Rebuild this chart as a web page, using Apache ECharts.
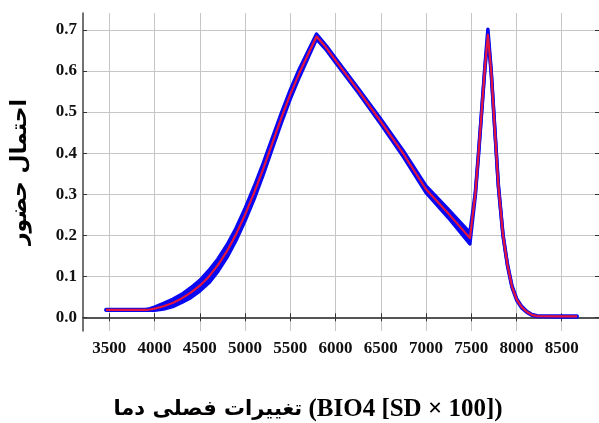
<!DOCTYPE html>
<html>
<head>
<meta charset="utf-8">
<script src="https://cdn.jsdelivr.net/npm/echarts@6/dist/echarts.min.js"></script>
<style>
html,body{margin:0;padding:0;background:#fff;}
#c{width:599px;height:423px;}
</style>
</head>
<body>
<div id="c"></div>
<script>
// ---- data ----
const xs    = [3463, 3600, 3750, 3900, 3950, 4000, 4100, 4200, 4300, 4400, 4500, 4600, 4700, 4800, 4900, 5000, 5100, 5200, 5300, 5400, 5500, 5600, 5700, 5790, 5900, 6000, 6250, 6500, 6750, 7000, 7250, 7485, 7545, 7581, 7648, 7684, 7720, 7760, 7800, 7851, 7900, 7950, 8005, 8060, 8116, 8170, 8227, 8450, 8670];
const mean  = [0.018, 0.018, 0.018, 0.018, 0.019, 0.021, 0.027, 0.035, 0.046, 0.060, 0.077, 0.099, 0.127, 0.161, 0.202, 0.250, 0.303, 0.361, 0.423, 0.485, 0.543, 0.595, 0.642, 0.684, 0.656, 0.626, 0.553, 0.477, 0.398, 0.312, 0.252, 0.193, 0.300, 0.400, 0.600, 0.688, 0.600, 0.460, 0.320, 0.200, 0.128, 0.075, 0.042, 0.024, 0.013, 0.006, 0.003, 0.002, 0.002];
const upper = [0.019, 0.019, 0.019, 0.019, 0.021, 0.025, 0.034, 0.044, 0.056, 0.072, 0.090, 0.114, 0.142, 0.176, 0.217, 0.265, 0.318, 0.375, 0.436, 0.497, 0.554, 0.605, 0.650, 0.690, 0.661, 0.631, 0.558, 0.483, 0.405, 0.320, 0.262, 0.206, 0.304, 0.403, 0.603, 0.702, 0.603, 0.462, 0.322, 0.202, 0.130, 0.077, 0.044, 0.026, 0.014, 0.007, 0.004, 0.003, 0.003];
const lower = [0.017, 0.017, 0.017, 0.017, 0.017, 0.017, 0.020, 0.026, 0.036, 0.048, 0.064, 0.084, 0.112, 0.146, 0.187, 0.235, 0.288, 0.347, 0.410, 0.473, 0.532, 0.585, 0.634, 0.678, 0.651, 0.621, 0.548, 0.471, 0.391, 0.304, 0.242, 0.179, 0.296, 0.397, 0.597, 0.686, 0.597, 0.458, 0.318, 0.198, 0.126, 0.073, 0.040, 0.022, 0.012, 0.005, 0.002, 0.001, 0.001];
const xTicks = [3500, 4000, 4500, 5000, 5500, 6000, 6500, 7000, 7500, 8000, 8500];
const yTicks = [0, 0.1, 0.2, 0.3, 0.4, 0.5, 0.6, 0.7];
const xNameFa = 'تغییرات فصلی دما';
const xNameEn = '(BIO4 [SD × 100])';
const yName = 'احتمال حضور';

const pairs = arr => xs.map((x, i) => [x, arr[i]]);
// one band segment per pair of neighbouring samples
const bandSegs = xs.slice(0, -1).map((x, i) => [x, lower[i], upper[i], xs[i + 1], lower[i + 1], upper[i + 1]]);

const BLUE = '#0808f2';
const RED = '#e3153e';
const lblFont = {fontFamily: "'Liberation Serif', serif", fontWeight: 'bold', fontSize: 17, color: '#111'};
const axLine = {show: true, lineStyle: {color: '#444', width: 1.5}};
const tick = vals => ({show: true, inside: true, length: 4, customValues: vals, lineStyle: {color: '#333', width: 1}});
const split = {show: true, lineStyle: {color: '#c6c6c6', width: 1}};

const chart = echarts.init(document.getElementById('c'), null, {renderer: 'canvas'});
chart.setOption({
  animation: false,
  backgroundColor: '#fff',
  grid: {left: 83, top: 13, right: 0, bottom: 92, containLabel: false, outerBoundsMode: 'none'},
  xAxis: [
    {type: 'value', position: 'bottom', min: 3209, max: 8912,
     axisLine: axLine, axisTick: tick(xTicks), splitLine: split,
     axisLabel: Object.assign({customValues: xTicks, margin: 9, formatter: v => String(v)}, lblFont),
     name: '{fa|' + xNameFa + '}{en| ' + xNameEn + '}', nameLocation: 'middle', nameGap: 66,
     nameTextStyle: {padding: [0, 66, 0, 0], color: '#000',
       rich: {
         fa: {fontFamily: "'DejaVu Sans', sans-serif", fontWeight: 'bold', fontSize: 21, color: '#000'},
         en: {fontFamily: "'Liberation Serif', serif", fontWeight: 'bold', fontSize: 25, color: '#000'}
       }}},
    {type: 'value', position: 'top', min: 3209, max: 8912,
     axisLine: {show: true, lineStyle: {color: '#555', width: 2}}, axisTick: tick(xTicks), splitLine: {show: false},
     axisLabel: {show: false, customValues: xTicks}}
  ],
  yAxis: [
    {type: 'value', position: 'left', min: -0.0334, max: 0.7414,
     axisLine: axLine, axisTick: tick(yTicks), splitLine: split,
     axisLabel: Object.assign({customValues: yTicks, margin: 6, formatter: v => v.toFixed(1)}, lblFont),
     name: yName, nameLocation: 'middle', nameGap: 52, nameRotate: 90,
     nameTextStyle: {fontFamily: "'DejaVu Sans', sans-serif", fontWeight: 'bold', fontSize: 22, color: '#000'}},
    {type: 'value', position: 'right', min: -0.0334, max: 0.7414,
     axisLine: {show: false}, axisTick: tick(yTicks), splitLine: {show: false},
     axisLabel: {show: false, customValues: yTicks}}
  ],
  series: [
    {type: 'custom', name: 'band', data: bandSegs, z: 1, clip: true,
     renderItem: (params, api) => {
       const a = api.coord([api.value(0), api.value(1)]);
       const b = api.coord([api.value(0), api.value(2)]);
       const c = api.coord([api.value(3), api.value(5)]);
       const d = api.coord([api.value(3), api.value(4)]);
       return {type: 'polygon', shape: {points: [a, b, c, d]},
               style: {fill: BLUE, stroke: BLUE, lineWidth: 1}};
     }},
    {type: 'line', name: 'lower', data: pairs(lower), symbol: 'none',
     lineStyle: {color: BLUE, width: 3.5, join: 'round', cap: 'round'}, z: 1},
    {type: 'line', name: 'upper', data: pairs(upper), symbol: 'none',
     lineStyle: {color: BLUE, width: 3.5, join: 'round', cap: 'round'}, z: 1},
    {type: 'line', name: 'mean', data: pairs(mean), symbol: 'none',
     lineStyle: {color: RED, width: 2.2, join: 'round'}, z: 10}
  ]
});
</script>
</body>
</html>
